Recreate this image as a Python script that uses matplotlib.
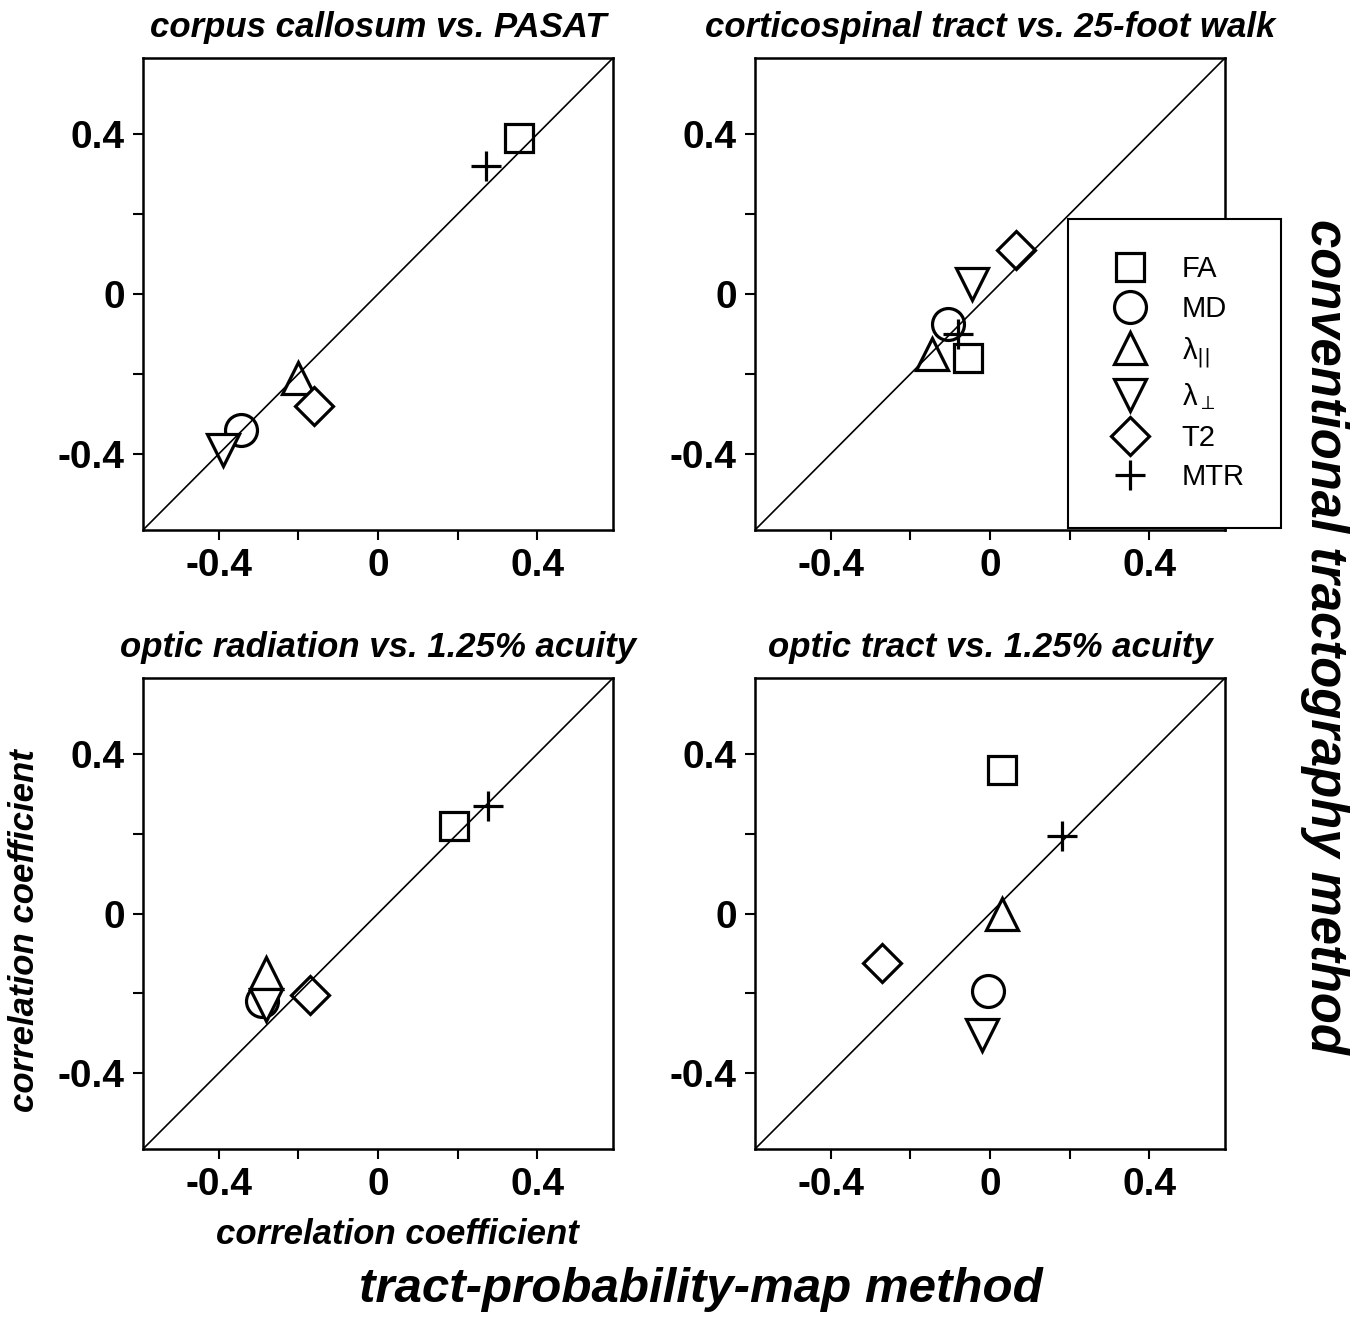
import matplotlib
matplotlib.use("Agg")
from matplotlib import pyplot as plt
from matplotlib.ticker import MultipleLocator

plt.rcParams['font.family'] = ['Liberation Sans', 'DejaVu Sans']

# measures, in the order of the legend
labels = ['FA', 'MD', 'λ$_{||}$', 'λ$_{\\perp}$', 'T2', 'MTR']
markers = ['s', 'o', '^', 'v', 'D', '+']
sizes = [20, 23, 23, 23, 19, 21]

titles = ['corpus callosum vs. PASAT',
          'corticospinal tract vs. 25-foot walk',
          'optic radiation vs. 1.25% acuity',
          'optic tract vs. 1.25% acuity']

# x = tract-probability-map method, y = conventional tractography
cc_x = [0.355, -0.345, -0.20, -0.39, -0.16, 0.27]
cc_y = [0.39, -0.34, -0.21, -0.39, -0.28, 0.32]
cst_x = [-0.055, -0.105, -0.145, -0.045, 0.065, -0.08]
cst_y = [-0.16, -0.075, -0.15, 0.025, 0.11, -0.10]
or_x = [0.19, -0.29, -0.28, -0.28, -0.17, 0.275]
or_y = [0.22, -0.22, -0.15, -0.23, -0.205, 0.27]
ot_x = [0.03, -0.005, 0.03, -0.02, -0.27, 0.18]
ot_y = [0.36, -0.195, 0.0, -0.305, -0.125, 0.195]

panels = [(cc_x, cc_y), (cst_x, cst_y), (or_x, or_y), (ot_x, ot_y)]

W, H = 1363, 1320
fig = plt.figure(figsize=(W / 100, H / 100), dpi=100)

# axes boxes in pixels: left, top, right, bottom
boxes = [(143, 58, 613, 530), (755, 58, 1225, 530),
         (143, 678, 613, 1149), (755, 678, 1225, 1149)]

lim = 0.59
axes = []
for i, (l, t, r, b) in enumerate(boxes):
    ax = fig.add_axes([l / W, 1 - b / H, (r - l) / W, (b - t) / H])
    xs, ys = panels[i]
    for j in range(len(xs)):
        ax.plot(xs[j], ys[j], linestyle='none', marker=markers[j],
                ms=sizes[j], mfc='white', mec='black', mew=2.3,
                color='black', label=labels[j], zorder=3)
    ax.plot([-lim, lim], [-lim, lim], color='black', lw=1.2, zorder=4)
    ax.set_xlim(-lim, lim)
    ax.set_ylim(-lim, lim)
    ax.xaxis.set_major_locator(MultipleLocator(0.4))
    ax.yaxis.set_major_locator(MultipleLocator(0.4))
    ax.xaxis.set_minor_locator(MultipleLocator(0.2))
    ax.yaxis.set_minor_locator(MultipleLocator(0.2))
    ax.xaxis.set_major_formatter(lambda v, p: '0' if abs(v) < 1e-9 else f'{v:.1f}')
    ax.yaxis.set_major_formatter(lambda v, p: '0' if abs(v) < 1e-9 else f'{v:.1f}')
    ax.tick_params(which='both', direction='out', width=1.5, top=False, right=False)
    ax.tick_params(which='major', length=7, labelsize=28, pad=6)
    ax.tick_params(which='minor', length=7)
    for lab in ax.get_xticklabels() + ax.get_yticklabels():
        lab.set_fontweight('bold')
    for s in ax.spines.values():
        s.set_linewidth(1.8)
    ax.set_title(titles[i], fontsize=25, fontweight='bold', fontstyle='italic', pad=15)
    axes.append(ax)

leg = axes[1].legend(loc='upper left', bbox_to_anchor=(1068 / W, 1 - 219 / H),
                     bbox_transform=fig.transFigure, borderaxespad=0,
                     fontsize=21, numpoints=1, frameon=True, fancybox=False,
                     borderpad=1.25, labelspacing=0.4, handletextpad=0.9,
                     handlelength=1.75)
leg.get_frame().set_edgecolor('black')
leg.get_frame().set_linewidth(1.5)
leg.get_frame().set_alpha(1)
leg.set_zorder(10)

fig.text(216 / W, 1 - 1235 / H, 'correlation coefficient', fontsize=25,
         fontweight='bold', fontstyle='italic', ha='left', va='center')
fig.text(25 / W, 1 - 931 / H, 'correlation coefficient', fontsize=25,
         fontweight='bold', fontstyle='italic', ha='center', va='center', rotation=90)
fig.text(701 / W, 1 - 1290 / H, 'tract-probability-map method', fontsize=35.5,
         fontweight='bold', fontstyle='italic', ha='center', va='center')
fig.text(1325 / W, 1 - 636 / H, 'conventional tractography method', fontsize=36.5,
         fontweight='bold', fontstyle='italic', ha='center', va='center', rotation=270,
         family=['Liberation Sans Narrow', 'Liberation Sans'])

fig.savefig('out.png', dpi=100)
